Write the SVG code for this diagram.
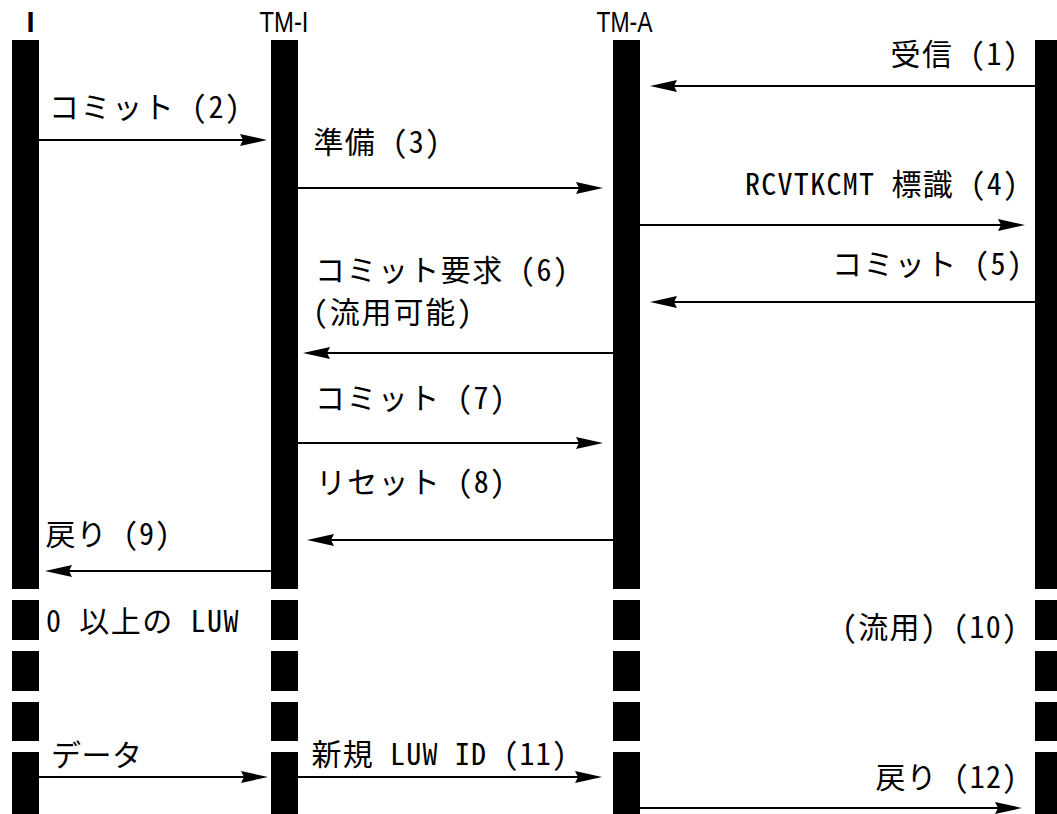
<svg xmlns="http://www.w3.org/2000/svg" width="1057" height="814" viewBox="0 0 1057 814">
<style>
.bar{fill:#000}
.hdr{font-family:"Liberation Sans","Noto Sans",sans-serif;font-size:29px;fill:#000}
.lbl{font-family:"Noto Sans Mono CJK JP","Noto Sans CJK JP",sans-serif;font-size:30px;fill:#000}
.msg{stroke:#000;stroke-width:2;fill:none;marker-end:url(#ah)}
</style>
<defs>
<marker id="ah" markerUnits="userSpaceOnUse" viewBox="-20 -10 40 20" markerWidth="40" markerHeight="20" refX="0" refY="0" orient="auto" overflow="visible">
<path d="M10,0 L-17,-6 L-14,0 L-17,6 Z" fill="#000"/>
</marker>
</defs>
<rect width="1057" height="814" fill="#fff"/>
<g id="lifeline-I">
<text class="hdr" x="30.5" y="32" text-anchor="middle" font-weight="bold">I</text>
<rect class="bar" x="12" y="40" width="27" height="549"/>
<rect class="bar" x="12" y="600" width="27" height="40"/>
<rect class="bar" x="12" y="651" width="27" height="40"/>
<rect class="bar" x="12" y="702" width="27" height="39"/>
<rect class="bar" x="12" y="752" width="27" height="62"/>
</g>
<g id="lifeline-TM-I">
<text class="hdr" x="284" y="32" text-anchor="middle" textLength="49" lengthAdjust="spacingAndGlyphs">TM-I</text>
<rect class="bar" x="271" y="40" width="27" height="549"/>
<rect class="bar" x="271" y="600" width="27" height="40"/>
<rect class="bar" x="271" y="651" width="27" height="40"/>
<rect class="bar" x="271" y="702" width="27" height="39"/>
<rect class="bar" x="271" y="752" width="27" height="62"/>
</g>
<g id="lifeline-TM-A">
<text class="hdr" x="624.5" y="32" text-anchor="middle" textLength="56" lengthAdjust="spacingAndGlyphs">TM-A</text>
<rect class="bar" x="613" y="40" width="27" height="549"/>
<rect class="bar" x="613" y="600" width="27" height="40"/>
<rect class="bar" x="613" y="651" width="27" height="40"/>
<rect class="bar" x="613" y="702" width="27" height="39"/>
<rect class="bar" x="613" y="752" width="27" height="62"/>
</g>
<g id="lifeline-remote">
<rect class="bar" x="1035" y="40" width="30" height="549"/>
<rect class="bar" x="1035" y="600" width="30" height="40"/>
<rect class="bar" x="1035" y="651" width="30" height="40"/>
<rect class="bar" x="1035" y="702" width="30" height="39"/>
<rect class="bar" x="1035" y="752" width="30" height="62"/>
</g>
<g id="connectors">
<line class="msg" x1="1035" y1="86" x2="660" y2="86"/>
<line class="msg" x1="39" y1="140" x2="257" y2="140"/>
<line class="msg" x1="298" y1="188" x2="593" y2="188"/>
<line class="msg" x1="640" y1="225" x2="1015" y2="225"/>
<line class="msg" x1="1035" y1="302" x2="660" y2="302"/>
<line class="msg" x1="613" y1="353" x2="313" y2="353"/>
<line class="msg" x1="298" y1="443" x2="593" y2="443"/>
<line class="msg" x1="613" y1="540" x2="317" y2="540"/>
<line class="msg" x1="272" y1="571" x2="55" y2="571"/>
<line class="msg" x1="39" y1="777" x2="258" y2="777"/>
<line class="msg" x1="298" y1="777" x2="592" y2="777"/>
<line class="msg" x1="640" y1="808" x2="1012" y2="808"/>
</g>
<g id="labels">
<text class="lbl" x="890.5" y="65" textLength="127.5" lengthAdjust="spacing">受信 (1)</text>
<text class="lbl" x="49" y="118" textLength="191" lengthAdjust="spacing">コミット (2)</text>
<text class="lbl" x="313.5" y="153" textLength="126.5" lengthAdjust="spacing">準備 (3)</text>
<text class="lbl" x="745" y="195" textLength="273" lengthAdjust="spacing">RCVTKCMT 標識 (4)</text>
<text class="lbl" x="832" y="275" textLength="190" lengthAdjust="spacing">コミット (5)</text>
<text class="lbl" x="315" y="281" textLength="253" lengthAdjust="spacing">コミット要求 (6)</text>
<text class="lbl" x="313" y="323" textLength="159" lengthAdjust="spacing">(流用可能)</text>
<text class="lbl" x="315" y="409" textLength="190" lengthAdjust="spacing">コミット (7)</text>
<text class="lbl" x="316" y="493" textLength="189" lengthAdjust="spacing">リセット (8)</text>
<text class="lbl" x="45.5" y="545" textLength="124.5" lengthAdjust="spacing">戻り (9)</text>
<text class="lbl" x="46" y="632" textLength="192.5" lengthAdjust="spacing">0 以上の LUW</text>
<text class="lbl" x="842" y="638" textLength="175" lengthAdjust="spacing">(流用) (10)</text>
<text class="lbl" x="51" y="766" textLength="91" lengthAdjust="spacing">データ</text>
<text class="lbl" x="311.5" y="765" textLength="255.5" lengthAdjust="spacing">新規 LUW ID (11)</text>
<text class="lbl" x="875.5" y="788" textLength="141.5" lengthAdjust="spacing">戻り (12)</text>
</g>
</svg>
